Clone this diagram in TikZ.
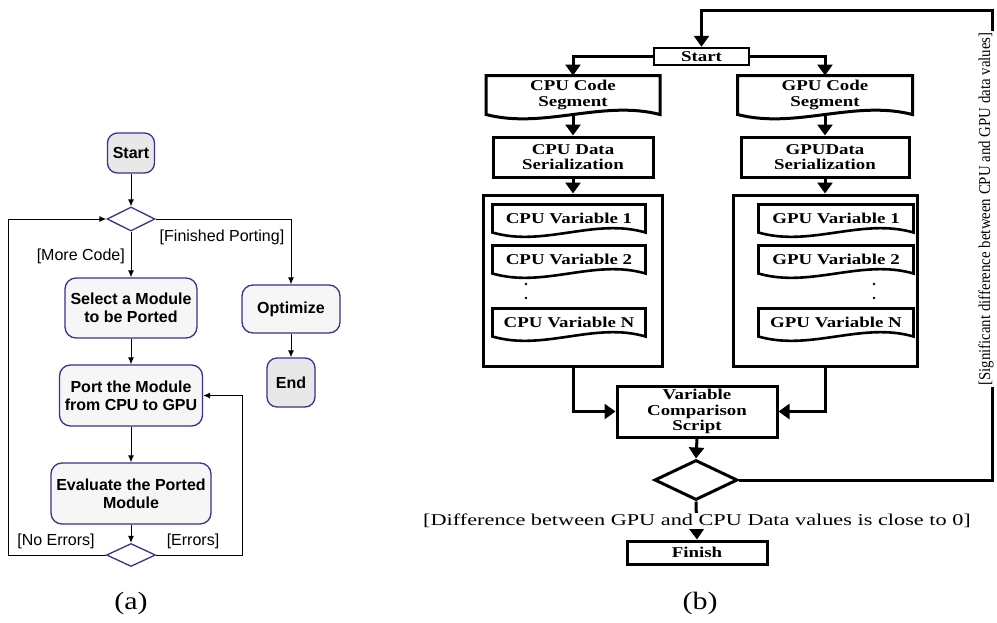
\documentclass[tikz,border=0pt]{standalone}
\usepackage{fontspec}
\setmainfont{Liberation Serif}
\newfontfamily\arialfont{Liberation Sans}
\newfontfamily\timeswide[FakeStretch=1.35]{Liberation Serif}
\newfontfamily\timesbox[FakeStretch=1.26]{Liberation Serif}
\newfontfamily\timesthin[FakeStretch=0.9]{Liberation Serif}
\newfontfamily\capfont[FakeStretch=1.2]{Liberation Serif}
\usetikzlibrary{arrows.meta,shapes.geometric,calc,positioning}

\definecolor{umlnavy}{RGB}{52,52,140}
\definecolor{umlfill}{RGB}{246,246,246}
\definecolor{umlterm}{RGB}{232,232,232}

\tikzset{
  act/.style={rectangle, rounded corners=11pt, draw=umlnavy, line width=1.3pt,
    fill=umlfill, font=\arialfont\bfseries\fontsize{16}{18}\selectfont,
    align=center, inner sep=0pt},
  term/.style={act, fill=umlterm, rounded corners=10pt},
  dec/.style={diamond, draw=umlnavy, line width=1.3pt, fill=white, inner sep=0pt,
    minimum width=48pt, minimum height=24pt},
  guard/.style={font=\arialfont\fontsize{16}{18}\selectfont, inner sep=0pt},
  flow/.style={-{Latex[length=7pt,width=6pt]}, line width=1pt},
  blk/.style={rectangle, draw, line width=3pt,
    font=\timesbox\bfseries\fontsize{15}{15.5}\selectfont, align=center, inner sep=0pt},
  doc/.style={blk, draw=none},
  heavy/.style={-{Triangle[length=11pt,width=15pt]}, line width=3pt},
  note/.style={font=\timeswide\fontsize{16.5}{18}\selectfont, fill=white, inner sep=1pt},
}

% rectangle with a wavy lower edge
\newcommand{\docshape}[2][3pt]{%
  \draw[line width=#1] (#2.south west) -- (#2.north west) -- (#2.north east) -- (#2.south east)
    .. controls ($(#2.south east)!0.333!(#2.south west)+(0,-15)$)
    and ($(#2.south east)!0.667!(#2.south west)+(0,15)$) .. (#2.south west) -- cycle;}

\begin{document}
\begin{tikzpicture}[x=1pt,y=-1pt]
\useasboundingbox (0,0) rectangle (997,622);

% (a)
\node[term, minimum width=47pt, minimum height=40pt] (s) at (131,153) {Start};
\node[dec] (d1) at (131,219) {};
\node[act, minimum width=132pt, minimum height=60pt] (sel) at (131,308) {Select a Module\\to be Ported};
\node[act, minimum width=143pt, minimum height=61pt] (port) at (131,395.5) {Port the Module\\from CPU to GPU};
\node[act, minimum width=160pt, minimum height=61pt] (eval) at (131,493.5) {Evaluate the Ported\\Module};
\node[dec, minimum width=49pt, minimum height=23pt] (d2) at (131,555) {};
\node[act, minimum width=98pt, minimum height=48pt] (opt) at (291,309) {Optimize};
\node[term, minimum width=48pt, minimum height=49pt] (end) at (291,382.5) {End};
\coordinate (lft) at (8,555);
\coordinate (rgt) at (242,555);

\draw[flow] (s) -- (d1);
\draw[flow] (d1) -- (sel);
\draw[flow] (sel) -- (port);
\draw[flow] (port) -- (eval);
\draw[flow] (eval) -- (d2);
\draw[flow] (d1.east) -| (opt.north);
\draw[flow] (opt) -- (end);
\draw[flow] (d2.west) -- (lft) |- (d1.west);
\draw[flow] (d2.east) -- (rgt) |- (port.east);

\node[guard, anchor=east] (more) at (125,256) {[More Code]};
\node[guard] (done) at (222,237) {[Finished Porting]};
\node[guard] (noerr) at (56,541) {[No Errors]};
\node[guard] (err) at (193,541) {[Errors]};

% (b)
\node[blk, line width=2.5pt, minimum width=95pt, minimum height=17pt] (st) at (701.5,56.5) {Start};
\node[doc, minimum width=171pt, minimum height=36pt] (cseg) at (573,95) {CPU Code\\Segment};
\node[doc, minimum width=172pt, minimum height=36pt] (gseg) at (825,95) {GPU Code\\Segment};
\docshape{cseg}
\docshape{gseg}
\node[blk, minimum width=160pt, minimum height=40pt] (cser) at (573,157) {CPU Data\\Serialization};
\node[blk, minimum width=168pt, minimum height=40pt] (gser) at (825,157) {GPUData\\Serialization};
\node[blk, minimum width=179pt, minimum height=171pt] (cbox) at (573,280.5) {};
\node[blk, minimum width=184pt, minimum height=171pt] (gbox) at (825,280.5) {};
\foreach \k/\lbl/\yy in {1/1/218.5, 2/2/259.5, n/N/322.5} {
  \node[doc, minimum width=150pt, minimum height=25pt] (cv\k) at (569,\yy) {CPU Variable \lbl};
  \node[doc, minimum width=152pt, minimum height=25pt] (gv\k) at (836,\yy) {GPU Variable \lbl};
  \docshape[2.6pt]{cv\k}
  \docshape[2.6pt]{gv\k}
}
\foreach \yy in {284,298} {
  \fill (526,\yy) circle (1.3pt);
  \fill (874,\yy) circle (1.3pt);
}
\node[blk, minimum width=160pt, minimum height=51pt] (cmp) at (697,411.5) {Variable\\Comparison\\Script};
\node[diamond, draw, line width=3pt, inner sep=0pt, minimum width=83pt, minimum height=40pt] (chk) at (696,480) {};
\node[blk, minimum width=140pt, minimum height=23pt] (fin) at (697,552.5) {Finish};
\coordinate (tr) at (992,10);

\draw[heavy] (st.west) -| (cseg.north);
\draw[heavy] (st.east) -| (gseg.north);
\draw[heavy] (cseg) -- (cser);
\draw[heavy] (gseg) -- (gser);
\draw[heavy] (cser) -- (cbox);
\draw[heavy] (gser) -- (gbox);
\draw[heavy] (cbox.south) |- (cmp.west);
\draw[heavy] (gbox.south) |- (cmp.east);
\draw[heavy] (cmp.south) -- (chk.north);
\draw[heavy] (chk.south) -- (fin.north);
\draw[heavy] (chk.east) -| (tr) -| (st.north);

\node[note] (small) at (697,521) {[Difference between GPU and CPU Data values is close to 0]};
\node[note, font=\timesthin\fontsize{16.5}{18}\selectfont, rotate=90] (big) at (986,209)
  {[Significant difference between CPU and GPU data values]};

\node[font=\capfont\fontsize{25}{28}\selectfont] (capa) at (131,603) {(a)};
\node[font=\capfont\fontsize{25}{28}\selectfont] (capb) at (700,603) {(b)};
\end{tikzpicture}
\end{document}
